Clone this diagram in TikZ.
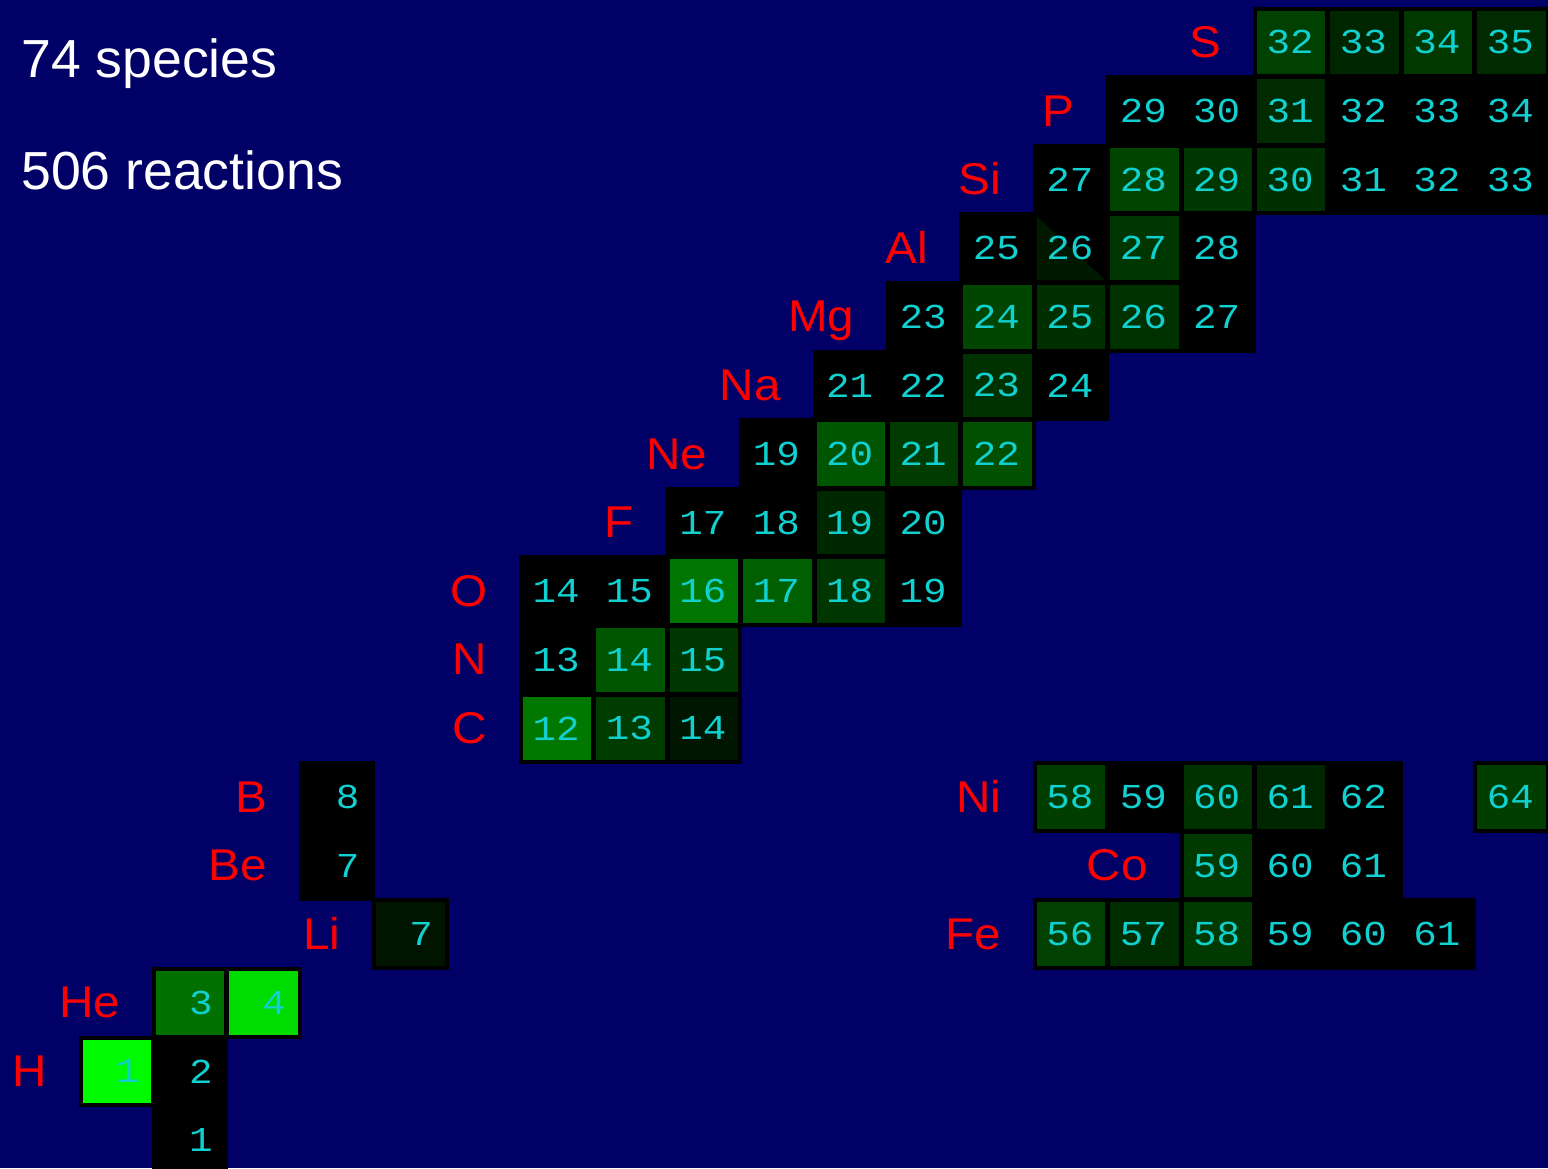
\documentclass[tikz,border=0pt]{standalone}
\usepackage{fontspec}
\setmainfont{Liberation Sans}
\newfontfamily\cellfont[FakeStretch=1.12]{Liberation Mono}
\newfontfamily\labfont[FakeStretch=1.07]{Liberation Sans}
\definecolor{bgnavy}{RGB}{0,0,102}
\definecolor{numcyan}{RGB}{16,208,208}
\definecolor{elemred}{RGB}{255,0,0}
\tikzset{
  num/.style={anchor=east,inner sep=0pt,text=numcyan,font=\cellfont\fontsize{35}{35}\selectfont},
  elemlabel/.style={anchor=base east,inner sep=0pt,text=elemred,font=\labfont\fontsize{44.5}{44.5}\selectfont},
  head/.style={anchor=base west,inner sep=0pt,text=white,font=\fontsize{53.6}{53.6}\selectfont}
}
\newcommand{\nuccell}[4]{%
  \pgfmathsetmacro{\xl}{80+73.4*#1}%
  \pgfmathsetmacro{\yt}{1105.7-68.6*#2}%
  \fill[black] (\xl-1.5,\yt-1.5) rectangle ++(76.4,71.6);
  \fill[fill={rgb,255:red,0;green,#4;blue,0}] (\xl+2.5,\yt+2.5) rectangle ++(68.4,63.6);
  \node[num] (c#1x#2) at (\xl+59.4,\yt+34.3) {#3};
}
\newcommand{\elemlab}[3]{%
  \pgfmathsetmacro{\xl}{80+73.4*#1}%
  \pgfmathsetmacro{\yc}{1105.7-68.6*#2+34.3}%
  \node[elemlabel] (e#3) at (\xl-33,\yc+15) {#3};
}
\begin{document}
\begin{tikzpicture}[x=1pt,y=-1pt]
\fill[bgnavy] (0,0) rectangle (1548,1168);
\useasboundingbox (0,0) rectangle (1548,1168);
\begin{scope}
\clip (0,0) rectangle (1548,1168);
% n
\nuccell{1}{0}{1}{0}
% H
\nuccell{0}{1}{1}{250}
\nuccell{1}{1}{2}{0}
% He
\nuccell{1}{2}{3}{112}
\nuccell{2}{2}{4}{220}
% Li Be B
\nuccell{4}{3}{7}{20}
\nuccell{3}{4}{7}{0}
\nuccell{3}{5}{8}{0}
% C
\nuccell{6}{6}{12}{120}
\nuccell{7}{6}{13}{60}
\nuccell{8}{6}{14}{22}
% N
\nuccell{6}{7}{13}{0}
\nuccell{7}{7}{14}{85}
\nuccell{8}{7}{15}{55}
% O
\nuccell{6}{8}{14}{0}
\nuccell{7}{8}{15}{0}
\nuccell{8}{8}{16}{118}
\nuccell{9}{8}{17}{95}
\nuccell{10}{8}{18}{55}
\nuccell{11}{8}{19}{0}
% F
\nuccell{8}{9}{17}{0}
\nuccell{9}{9}{18}{0}
\nuccell{10}{9}{19}{40}
\nuccell{11}{9}{20}{0}
% Ne
\nuccell{9}{10}{19}{0}
\nuccell{10}{10}{20}{85}
\nuccell{11}{10}{21}{60}
\nuccell{12}{10}{22}{80}
% Na
\nuccell{10}{11}{21}{0}
\nuccell{11}{11}{22}{0}
\nuccell{12}{11}{23}{50}
\nuccell{13}{11}{24}{0}
% Mg
\nuccell{11}{12}{23}{0}
\nuccell{12}{12}{24}{70}
\nuccell{13}{12}{25}{48}
\nuccell{14}{12}{26}{50}
\nuccell{15}{12}{27}{0}
% Al
\nuccell{12}{13}{25}{0}
\fill[black] (1032.7,212.4) rectangle ++(76.4,71.6);
\fill[fill={rgb,255:red,0;green,25;blue,0}] (1036.7,216.4) -- (1036.7,280) -- (1105.1,280) -- cycle;
\node[num] (c13x13) at (1093.6,248.2) {26};
\nuccell{14}{13}{27}{55}
\nuccell{15}{13}{28}{0}
% Si
\nuccell{13}{14}{27}{0}
\nuccell{14}{14}{28}{68}
\nuccell{15}{14}{29}{55}
\nuccell{16}{14}{30}{48}
\nuccell{17}{14}{31}{0}
\nuccell{18}{14}{32}{0}
\nuccell{19}{14}{33}{0}
% P
\nuccell{14}{15}{29}{0}
\nuccell{15}{15}{30}{0}
\nuccell{16}{15}{31}{42}
\nuccell{17}{15}{32}{0}
\nuccell{18}{15}{33}{0}
\nuccell{19}{15}{34}{0}
% S
\nuccell{16}{16}{32}{64}
\nuccell{17}{16}{33}{38}
\nuccell{18}{16}{34}{56}
\nuccell{19}{16}{35}{42}
% Fe
\nuccell{13}{3}{56}{64}
\nuccell{14}{3}{57}{45}
\nuccell{15}{3}{58}{58}
\nuccell{16}{3}{59}{0}
\nuccell{17}{3}{60}{0}
\nuccell{18}{3}{61}{0}
% Co
\nuccell{15}{4}{59}{58}
\nuccell{16}{4}{60}{0}
\nuccell{17}{4}{61}{0}
% Ni
\nuccell{13}{5}{58}{62}
\nuccell{14}{5}{59}{0}
\nuccell{15}{5}{60}{50}
\nuccell{16}{5}{61}{38}
\nuccell{17}{5}{62}{0}
\nuccell{19}{5}{64}{62}
\end{scope}
% element labels
\elemlab{0}{1}{H}
\elemlab{1}{2}{He}
\elemlab{4}{3}{Li}
\elemlab{3}{4}{Be}
\elemlab{3}{5}{B}
\elemlab{6}{6}{C}
\elemlab{6}{7}{N}
\elemlab{6}{8}{O}
\elemlab{8}{9}{F}
\elemlab{9}{10}{Ne}
\elemlab{10}{11}{Na}
\elemlab{11}{12}{Mg}
\elemlab{12}{13}{Al}
\elemlab{13}{14}{Si}
\elemlab{14}{15}{P}
\elemlab{16}{16}{S}
\elemlab{13}{3}{Fe}
\elemlab{15}{4}{Co}
\elemlab{13}{5}{Ni}
% header
\node[head] (species) at (21,77) {74 species};
\node[head] (reactions) at (21,189) {506 reactions};
\end{tikzpicture}
\end{document}
